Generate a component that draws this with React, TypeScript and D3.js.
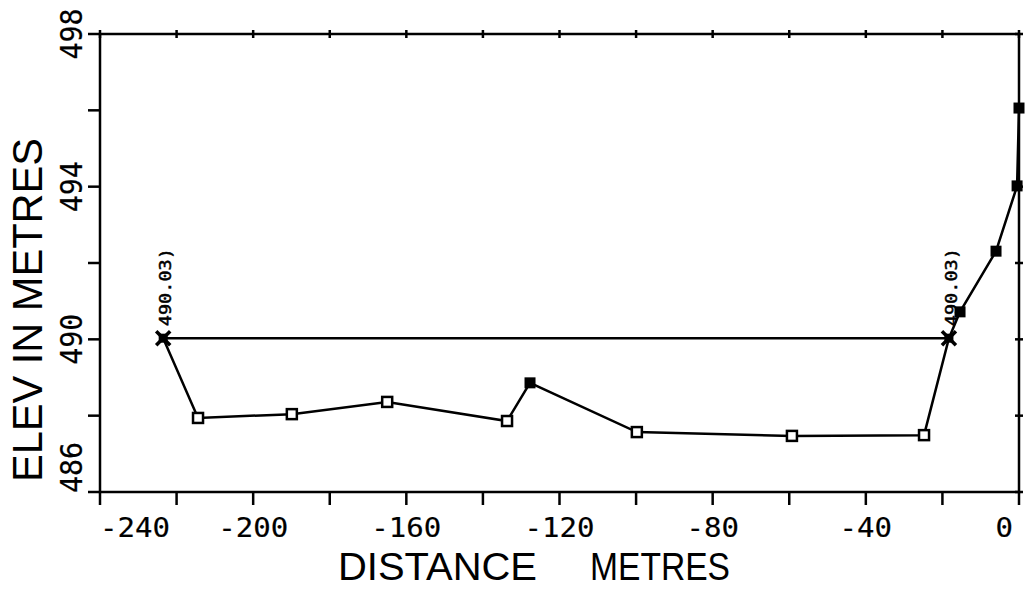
import React from "react";
import * as d3 from "d3";

const distances = [-223.5, -214.4, -189.9, -165.0, -133.7, -127.7, -99.8, -59.3, -24.8, -18.3, -15.4, -6.0, -0.5, 0];
const elevations = [490.03, 487.94, 488.04, 488.36, 487.86, 488.86, 487.57, 487.47, 487.49, 490.03, 490.72, 492.31, 494.02, 496.06];
const markerKinds = ["star", "open", "open", "open", "open", "filled", "open", "open", "open", "star", "filled", "filled", "filled", "filled"];
const waterLevel = 490.03;
const waterLabel = "490.03)";
const xLabelTicks = [-240, -200, -160, -120, -80, -40, 0];
const xMinorTicks = d3.range(-240, 1, 20);
const yLabelTicks = [486, 490, 494, 498];
const yMinorTicks = d3.range(486, 499, 2);

const W = 1028, H = 589;
const L = 100, R = 1019, T = 34, B = 492;

export default function App() {
  const x = d3.scaleLinear().domain([-240, 0]).range([L, R]);
  const y = d3.scaleLinear().domain([486, 498]).range([B, T]);
  const line = d3.line<number>().x((_, i) => x(distances[i])).y((_, i) => y(elevations[i]));
  const stars = distances.map((d, i) => ({ d, e: elevations[i], k: markerKinds[i] })).filter(p => p.k === "star");
  const tickFont = "'DejaVu Sans Mono', 'Liberation Mono', monospace";
  const titleFont = "'Liberation Sans', 'DejaVu Sans', sans-serif";
  return (
    <svg width={W} height={H} style={{ position: "absolute", left: 0, top: 0, background: "#fff" }}>
      <rect x={L} y={T} width={R - L} height={B - T} fill="none" stroke="#000" strokeWidth={2.5} />
      {xMinorTicks.map(t => (
        <line key={"bx" + t} x1={x(t)} x2={x(t)} y1={B} y2={B + 13} stroke="#000" strokeWidth={2.5} />
      ))}
      {xMinorTicks.map(t => (
        <line key={"tx" + t} x1={x(t)} x2={x(t)} y1={T - 4} y2={T + 4} stroke="#000" strokeWidth={2.5} />
      ))}
      {yMinorTicks.map(t => (
        <line key={"ly" + t} x1={L - 12} x2={L} y1={y(t)} y2={y(t)} stroke="#000" strokeWidth={2.5} />
      ))}
      {yMinorTicks.map(t => (
        <line key={"ry" + t} x1={R - 4} x2={R + 4} y1={y(t)} y2={y(t)} stroke="#000" strokeWidth={2.5} />
      ))}
      {xLabelTicks.map((t, i) => {
        const s = String(t);
        const len = s.length * 17.5;
        let anchor: "start" | "middle" | "end" = "middle";
        let px = x(t);
        if (i === 0) { anchor = "start"; px = L; }
        if (t === 0) { anchor = "end"; px = 1013; }
        return (
          <text key={"xl" + t} x={px} y={537} fontFamily={tickFont} fontSize={27} textAnchor={anchor}
            textLength={len} lengthAdjust="spacingAndGlyphs" stroke="#000" strokeWidth={0.2}>{s}</text>
        );
      })}
      {yLabelTicks.map((t, i) => {
        const s = String(t);
        const isFirst = i === 0;
        const py = isFirst ? B + 1 : y(t);
        return (
          <text key={"yl" + t} transform={`translate(82,${py}) rotate(-90)`} fontFamily={tickFont} fontSize={30}
            textAnchor={isFirst ? "start" : "middle"} textLength={51} lengthAdjust="spacingAndGlyphs"
            stroke="#000" strokeWidth={0.2}>{s}</text>
        );
      })}
      <text x={338} y={580} fontFamily={titleFont} fontSize={39} textLength={199} lengthAdjust="spacingAndGlyphs">DISTANCE</text>
      <text x={590} y={580} fontFamily={titleFont} fontSize={39} textLength={140} lengthAdjust="spacingAndGlyphs">METRES</text>
      <text transform={`translate(42,482) rotate(-90)`} fontFamily={titleFont} fontSize={42} textLength={344} lengthAdjust="spacingAndGlyphs">ELEV IN METRES</text>
      <line x1={x(stars[0].d)} x2={x(stars[1].d)} y1={y(waterLevel)} y2={y(waterLevel)} stroke="#000" strokeWidth={2.5} />
      <path d={line(elevations) || ""} fill="none" stroke="#000" strokeWidth={2.5} />
      {distances.map((d, i) => {
        const cx = x(d), cy = y(elevations[i]);
        const k = markerKinds[i];
        if (k === "star") {
          return (
            <g key={"m" + i}>
              <line x1={cx - 7} x2={cx + 7} y1={cy - 7} y2={cy + 7} stroke="#000" strokeWidth={3.5} />
              <line x1={cx - 7} x2={cx + 7} y1={cy + 7} y2={cy - 7} stroke="#000" strokeWidth={3.5} />
              <rect x={cx - 4.5} y={cy - 4.5} width={9} height={9} fill="#000" />
            </g>
          );
        }
        if (k === "filled") {
          return <rect key={"m" + i} x={cx - 5.5} y={cy - 5.5} width={11} height={11} fill="#000" />;
        }
        return <rect key={"m" + i} x={cx - 5} y={cy - 5} width={10} height={10} fill="#fff" stroke="#000" strokeWidth={2.5} />;
      })}
      {stars.map((p, i) => (
        <text key={"wl" + i} transform={`translate(${x(p.d) + 8},${y(p.e) - 12}) rotate(-90)`} fontFamily={tickFont}
          fontSize={16} textLength={78} lengthAdjust="spacingAndGlyphs" stroke="#000" strokeWidth={0.5}>{waterLabel}</text>
      ))}
    </svg>
  );
}
